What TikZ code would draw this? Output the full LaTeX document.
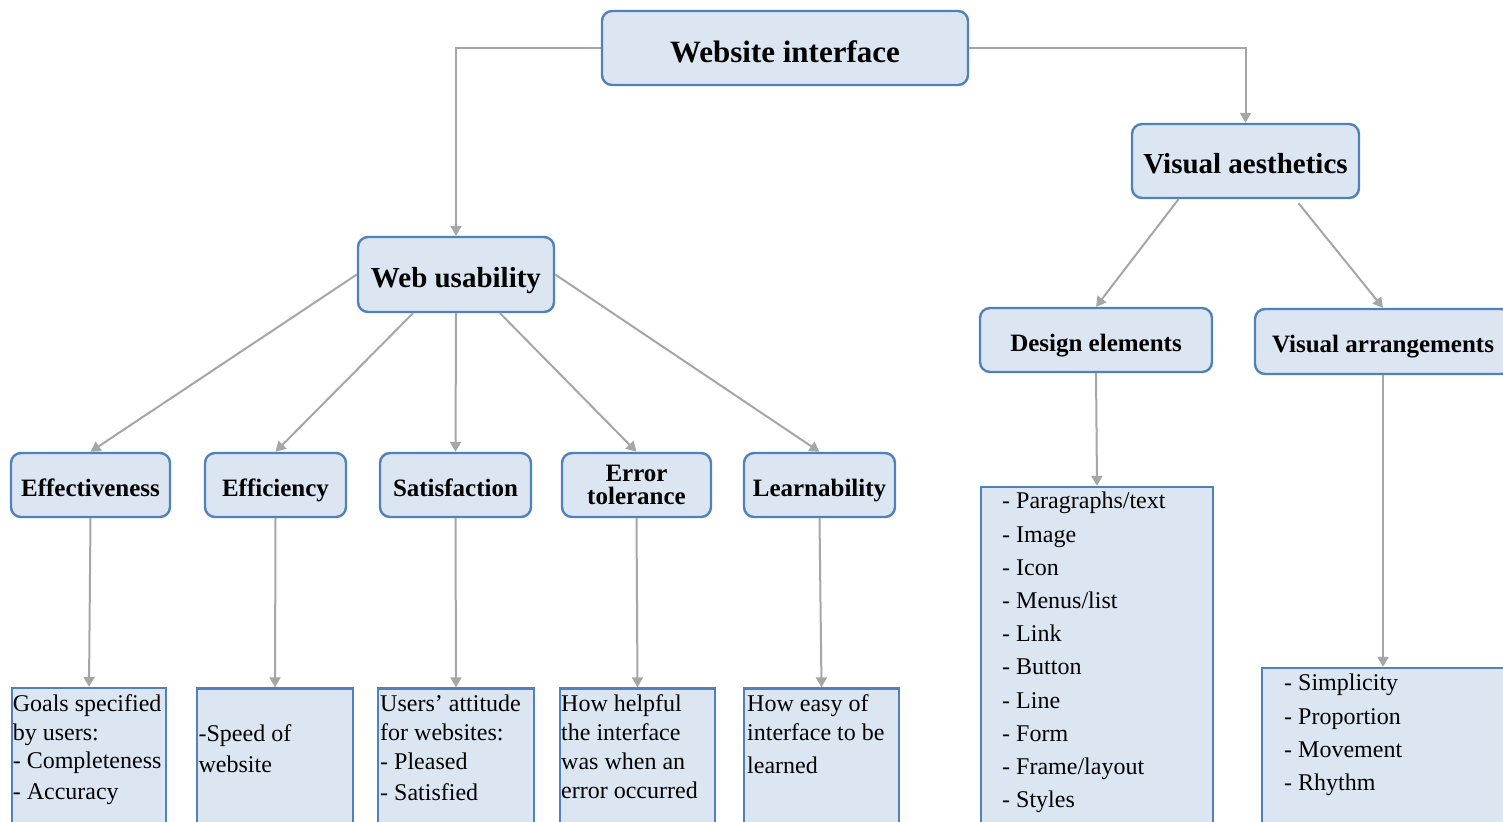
\documentclass[tikz,border=0pt]{standalone}
\usepackage{fontspec}
\setmainfont{Liberation Serif}
\usetikzlibrary{positioning,arrows.meta,calc}
\definecolor{boxblue}{HTML}{4F81BD}
\definecolor{boxfill}{HTML}{DCE6F2}
\definecolor{linkgray}{HTML}{A6A6A6}
\tikzset{
    topic/.style={rounded corners=5pt,draw=boxblue,fill=boxfill,line width=1.2pt,inner sep=0pt,
        align=center,text height=12.5pt,text depth=0pt,font=\bfseries\fontsize{14.5}{16}\selectfont},
    crit/.style={rounded corners=5pt,draw=boxblue,fill=boxfill,line width=1.2pt,inner sep=0pt,
        align=center,minimum height=32pt,font=\bfseries\fontsize{12.5}{11.5}\selectfont},
    oneline/.style={text height=11pt,text depth=0pt},
    twoline/.style={},
    detail/.style={draw=boxblue,fill=boxfill,line width=1.2pt,inner sep=0pt},
    detailtxt/.style={inner sep=0pt,align=left,font=\fontsize{12}{14.4}\selectfont},
    listtxt/.style={inner sep=0pt,align=left,font=\fontsize{12}{16.6}\selectfont},
    link/.style={draw=linkgray,line width=1pt,-{Triangle[length=5pt,width=5.5pt]}}
}
\begin{document}
\begin{tikzpicture}[x=0.5pt,y=-0.5pt]
\clip (0,0) rectangle (1503,821);

% top levels
\node[topic,minimum width=183pt,minimum height=37pt,text height=14.5pt,
    font=\bfseries\fontsize{15.5}{18}\selectfont] (site) at (785,48) {Website interface};
\node[topic,minimum width=98pt,minimum height=37.5pt] (wu) at (456,274.5) {Web usability};
\node[topic,minimum width=113.5pt,minimum height=37pt] (va) at (1245.5,161) {Visual aesthetics};

% criteria
\foreach \nm/\x/\w/\opt/\txt in {eff/90.5/79.5pt/oneline/Effectiveness,effi/275.5/70.5pt/oneline/Efficiency,
    sat/455.5/75.5pt/oneline/Satisfaction,err/636.5/74.5pt/twoline/{Error\\tolerance},
    learn/819.5/75.5pt/oneline/Learnability}{
    \node[crit,\opt,minimum width=\w] (\nm) at (\x,485) {\txt};
}
\node[crit,oneline,minimum width=116pt] (design) at (1096,340) {Design elements};
\node[crit,oneline,minimum width=128pt,minimum height=32.5pt] (arrange) at (1383,341.5) {Visual arrangements};

% detail boxes
\node[detail,minimum width=77pt,minimum height=76pt] (goals) at (89,764) {};
\node[detail,minimum width=78pt,minimum height=76pt] (speed) at (275,764.5) {};
\node[detail,minimum width=78pt,minimum height=76pt] (attitude) at (456,764.5) {};
\node[detail,minimum width=77.5pt,minimum height=76pt] (helpful) at (637.5,764.5) {};
\node[detail,minimum width=77.5pt,minimum height=76pt] (easy) at (821.5,764.5) {};
\node[detail,minimum width=116pt,minimum height=176.5pt] (delist) at (1097,663.5) {};
\node[detail,minimum width=129pt,minimum height=86pt] (arrlist) at (1391,754) {};

\node[detailtxt,below right=3.6pt and 0.8pt of goals.north west] (goalstxt)
    {Goals specified\\by users:\\- Completeness\\[1pt]- Accuracy};
\node[detailtxt,below right=18.5pt and 1.2pt of speed.north west] (speedtxt)
    {-Speed of\\[1pt]website};
\node[detailtxt,below right=3.6pt and 1.5pt of attitude.north west] (attitudetxt)
    {Users’ attitude\\for websites:\\- Pleased\\[1.5pt]- Satisfied};
\node[detailtxt,below right=3.6pt and 1pt of helpful.north west] (helpfultxt)
    {How helpful\\the interface\\was when an\\error occurred};
\node[detailtxt,below right=3.6pt and 2pt of easy.north west] (easytxt)
    {How easy of\\interface to be\\[2pt]learned};
\node[listtxt,below right=3pt and 11pt of delist.north west] (delisttxt)
    {- Paragraphs/text\\- Image\\- Icon\\- Menus/list\\- Link\\- Button\\- Line\\- Form\\- Frame/layout\\- Styles};
\node[listtxt,below right=3.5pt and 11.5pt of arrlist.north west] (arrlisttxt)
    {- Simplicity\\- Proportion\\- Movement\\- Rhythm};

% connectors
\draw[link] (site.west) -| (wu.north);
\draw[link] (site.east) -| (va.north);
\draw[link] (wu.west) -- (eff.north);
\draw[link] ($(wu.south)+(-43,0)$) -- (effi.north);
\draw[link] (wu.south) -- (sat.north);
\draw[link] ($(wu.south)+(44,0)$) -- (err.north);
\draw[link] (wu.east) -- (learn.north);
\draw[link] ($(va.south)+(-67,0)$) -- (design.north);
\draw[link] ($(va.south)+(53,4)$) -- (arrange.north);
\draw[link] (eff.south) -- (goals.north);
\draw[link] (effi.south) -- (speed.north);
\draw[link] (sat.south) -- (attitude.north);
\draw[link] (err.south) -- (helpful.north);
\draw[link] (learn.south) -- (easy.north);
\draw[link] (design.south) -- (delist.north);
\draw[link] (arrange.south) -- (arrange.south |- arrlist.north);
\end{tikzpicture}
\end{document}
